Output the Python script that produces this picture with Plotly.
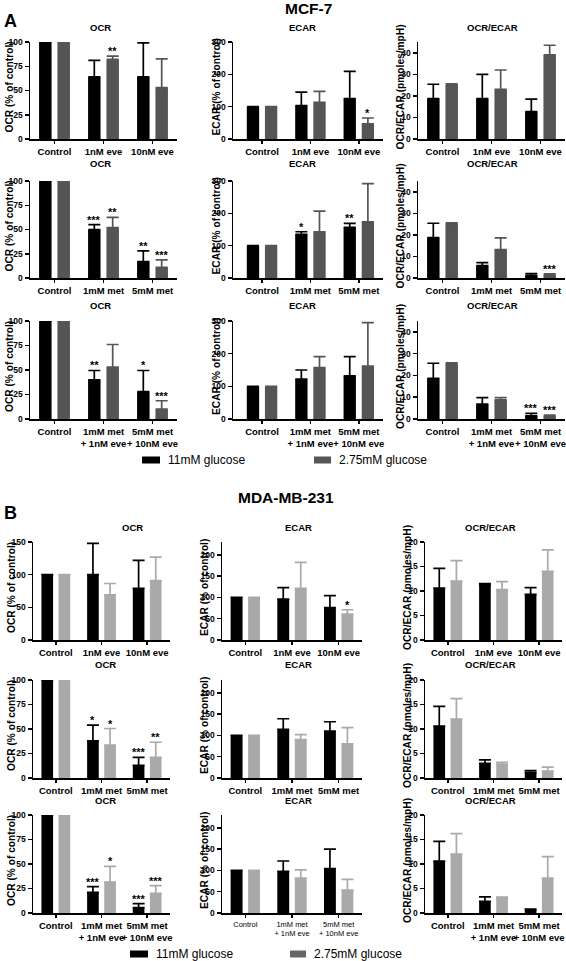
import plotly.graph_objects as go

W, H = 566, 961
FONT = "Liberation Sans, Arial, sans-serif"

# ---------------- categories / labels ----------------
cat_eve = ["Control", "1nM eve", "10nM eve"]
cat_met = ["Control", "1mM met", "5mM met"]
cat_combo = ["Control", "1mM met<br>+ 1nM eve", "5mM met<br>+ 10nM eve"]
legend_labels = ["11mM glucose", "2.75mM glucose"]

# ---------------- MCF-7 (panel A) ----------------
# row 1: everolimus
mcf7_eve_ocr_11 = [100, 64, 64]
mcf7_eve_ocr_11_err = [0, 17, 35]
mcf7_eve_ocr_275 = [100, 82, 53]
mcf7_eve_ocr_275_err = [0, 3.5, 29.5]
mcf7_eve_ocr_11_sig = ["", "", ""]
mcf7_eve_ocr_275_sig = ["", "**", ""]

mcf7_eve_ecar_11 = [100, 103, 125]
mcf7_eve_ecar_11_err = [0, 42, 84]
mcf7_eve_ecar_275 = [100, 113, 47]
mcf7_eve_ecar_275_err = [0, 34, 18]
mcf7_eve_ecar_11_sig = ["", "", ""]
mcf7_eve_ecar_275_sig = ["", "", "*"]

mcf7_eve_ratio_11 = [18.7, 18.7, 12.7]
mcf7_eve_ratio_11_err = [6.7, 11.3, 5.8]
mcf7_eve_ratio_275 = [25.3, 23, 39]
mcf7_eve_ratio_275_err = [0.3, 9, 4.5]
mcf7_eve_ratio_11_sig = ["", "", ""]
mcf7_eve_ratio_275_sig = ["", "", ""]

# row 2: metformin
mcf7_met_ocr_11 = [100, 50, 17]
mcf7_met_ocr_11_err = [0, 5, 11]
mcf7_met_ocr_275 = [100, 52, 11]
mcf7_met_ocr_275_err = [0, 10.5, 7.7]
mcf7_met_ocr_11_sig = ["", "***", "**"]
mcf7_met_ocr_275_sig = ["", "**", "***"]

mcf7_met_ecar_11 = [100, 135, 157]
mcf7_met_ecar_11_err = [0, 8, 12]
mcf7_met_ecar_275 = [100, 143, 174]
mcf7_met_ecar_275_err = [0, 64, 118]
mcf7_met_ecar_11_sig = ["", "*", "**"]
mcf7_met_ecar_275_sig = ["", "", ""]

mcf7_met_ratio_11 = [18.7, 5.8, 1.1]
mcf7_met_ratio_11_err = [6.7, 1.3, 0.9]
mcf7_met_ratio_275 = [25.3, 13.2, 1.5]
mcf7_met_ratio_275_err = [0.3, 5.4, 0.4]
mcf7_met_ratio_11_sig = ["", "", ""]
mcf7_met_ratio_275_sig = ["", "", "***"]

# row 3: combination
mcf7_combo_ocr_11 = [100, 40, 28]
mcf7_combo_ocr_11_err = [0, 9.5, 21.5]
mcf7_combo_ocr_275 = [100, 53, 10]
mcf7_combo_ocr_275_err = [0, 23, 8.6]
mcf7_combo_ocr_11_sig = ["", "**", "*"]
mcf7_combo_ocr_275_sig = ["", "", "***"]

mcf7_combo_ecar_11 = [100, 122, 132]
mcf7_combo_ecar_11_err = [0, 28, 59]
mcf7_combo_ecar_275 = [100, 157, 162]
mcf7_combo_ecar_275_err = [0, 34, 133]
mcf7_combo_ecar_11_sig = ["", "", ""]
mcf7_combo_ecar_275_sig = ["", "", ""]

mcf7_combo_ratio_11 = [18.7, 6.8, 1.5]
mcf7_combo_ratio_11_err = [6.9, 3.0, 1.1]
mcf7_combo_ratio_275 = [25.5, 8.8, 1.5]
mcf7_combo_ratio_275_err = [0.3, 1.0, 0.3]
mcf7_combo_ratio_11_sig = ["", "", "***"]
mcf7_combo_ratio_275_sig = ["", "", "***"]

# ---------------- MDA-MB-231 (panel B) ----------------
mda_eve_ocr_11 = [100, 100, 79]
mda_eve_ocr_11_err = [0, 48, 43]
mda_eve_ocr_275 = [100, 69, 91]
mda_eve_ocr_275_err = [0, 17.5, 36]
mda_eve_ocr_11_sig = ["", "", ""]
mda_eve_ocr_275_sig = ["", "", ""]

mda_eve_ecar_11 = [100, 96, 76]
mda_eve_ecar_11_err = [0, 27, 28]
mda_eve_ecar_275 = [100, 121, 61]
mda_eve_ecar_275_err = [0, 61, 10]
mda_eve_ecar_11_sig = ["", "", ""]
mda_eve_ecar_275_sig = ["", "", "*"]

mda_eve_ratio_11 = [10.6, 11.2, 9.3]
mda_eve_ratio_11_err = [4.0, 0.3, 1.4]
mda_eve_ratio_275 = [12.0, 10.3, 14.0]
mda_eve_ratio_275_err = [4.2, 1.6, 4.4]
mda_eve_ratio_11_sig = ["", "", ""]
mda_eve_ratio_275_sig = ["", "", ""]

mda_met_ocr_11 = [100, 38, 13]
mda_met_ocr_11_err = [0, 16, 8]
mda_met_ocr_275 = [100, 33.5, 21]
mda_met_ocr_275_err = [0, 17, 15.5]
mda_met_ocr_11_sig = ["", "*", "***"]
mda_met_ocr_275_sig = ["", "*", "**"]

mda_met_ecar_11 = [100, 114, 110]
mda_met_ecar_11_err = [0, 25, 22]
mda_met_ecar_275 = [100, 90, 80]
mda_met_ecar_275_err = [0, 12, 38]
mda_met_ecar_11_sig = ["", "", ""]
mda_met_ecar_275_sig = ["", "", ""]

mda_met_ratio_11 = [10.6, 3.0, 1.1]
mda_met_ratio_11_err = [4.0, 0.7, 0.4]
mda_met_ratio_275 = [12.0, 2.8, 1.4]
mda_met_ratio_275_err = [4.2, 0.4, 0.8]
mda_met_ratio_11_sig = ["", "", ""]
mda_met_ratio_275_sig = ["", "", ""]

mda_combo_ocr_11 = [100, 21, 5.5]
mda_combo_ocr_11_err = [0, 6, 4]
mda_combo_ocr_275 = [100, 31.5, 20]
mda_combo_ocr_275_err = [0, 16, 8]
mda_combo_ocr_11_sig = ["", "***", "***"]
mda_combo_ocr_275_sig = ["", "*", "***"]

mda_combo_ecar_11 = [100, 98, 104]
mda_combo_ecar_11_err = [0, 24, 46]
mda_combo_ecar_275 = [100, 82, 54]
mda_combo_ecar_275_err = [0, 19, 25]
mda_combo_ecar_11_sig = ["", "", ""]
mda_combo_ecar_275_sig = ["", "", ""]

mda_combo_ratio_11 = [10.6, 2.4, 0.7]
mda_combo_ratio_11_err = [4.0, 0.9, 0.1]
mda_combo_ratio_275 = [12.0, 2.9, 7.1]
mda_combo_ratio_275_err = [4.2, 0.35, 4.4]
mda_combo_ratio_11_sig = ["", "", ""]
mda_combo_ratio_275_sig = ["", "", ""]

# ---------------- figure building ----------------
BARGAP = 0.25
BARGROUPGAP = 0.32
GRAY_A = "#555555"
GRAY_B = "#a9a9a9"

fig = go.Figure()
layout_axes = {}
annotations = []
shapes = []
counter = [0]


def fx(x):
    return x / W


def fy(y):
    return 1 - y / H


def text(x, y, s, size, bold=True, angle=0, xanchor="center", yanchor="middle"):
    annotations.append(dict(
        x=fx(x), y=fy(y), xref="paper", yref="paper", text=s, showarrow=False,
        textangle=angle, xanchor=xanchor, yanchor=yanchor,
        font=dict(family=FONT, size=size, color="black", weight="bold" if bold else "normal"),
    ))


def add_chart(xd, yd, xrange, yrange, yticks, cats, s11, e11, s275, e275, sig11, sig275,
              gray, xtick_size=9.5, xtick_bold=True):
    counter[0] += 1
    n = counter[0]
    xa = "x" if n == 1 else f"x{n}"
    ya = "y" if n == 1 else f"y{n}"
    xkey = "xaxis" if n == 1 else f"xaxis{n}"
    ykey = "yaxis" if n == 1 else f"yaxis{n}"
    for vals, errs, color, name in ((s11, e11, "black", legend_labels[0]),
                                    (s275, e275, gray, legend_labels[1])):
        fig.add_trace(go.Bar(
            x=cats, y=vals, xaxis=xa, yaxis=ya, name=name, showlegend=False,
            marker=dict(color=color, line=dict(width=0)),
            error_y=dict(type="data", symmetric=False, array=errs, arrayminus=[0] * len(errs),
                         color=color, thickness=1.7, width=6),
        ))
    layout_axes[xkey] = dict(
        domain=[fx(xd[0]), fx(xd[1])], anchor=ya, type="category", range=list(xrange),
        showline=True, linecolor="black", linewidth=1.5, ticks="outside", ticklen=3,
        tickwidth=1.5, tickcolor="black", showgrid=False, zeroline=False, tickangle=0,
        automargin=False,
        tickfont=dict(family=FONT, size=xtick_size, color="black",
                      weight="bold" if xtick_bold else "normal"),
    )
    layout_axes[ykey] = dict(
        domain=[fy(yd[1]), fy(yd[0])], anchor=xa, range=list(yrange), tickvals=yticks,
        showline=True, linecolor="black", linewidth=1.5, ticks="outside", ticklen=4,
        tickwidth=1.5, tickcolor="black", showgrid=False, zeroline=False, automargin=False,
        tickfont=dict(family=FONT, size=8.5, color="black", weight="bold"),
    )
    unit = (xd[1] - xd[0]) / (xrange[1] - xrange[0])
    dx = unit * (1 - BARGAP) / 4
    for sigs, vals, errs, sh in ((sig11, s11, e11, -dx), (sig275, s275, e275, dx)):
        for c, s, v, e in zip(cats, sigs, vals, errs):
            if s:
                annotations.append(dict(
                    x=c, y=v + e, xref=xa, yref=ya, text=s, showarrow=False,
                    xanchor="center", yanchor="bottom", xshift=sh, yshift=-3,
                    font=dict(family=FONT, size=11, color="black", weight="bold"),
                ))


# ----- panel A layout -----
A_cols = [(30, 177, (-0.5, 2.5)), (233, 383, (-0.6, 2.5)), (418, 565, (-0.5, 2.5))]
A_rows = [(42, 139), (181, 278), (321, 419)]
A_title_y = [27, 164, 305]
A_title_x = [100, 302, 492]
A_ylab_x = [9, 216, 400]

A_data = [
    [(cat_eve, mcf7_eve_ocr_11, mcf7_eve_ocr_11_err, mcf7_eve_ocr_275, mcf7_eve_ocr_275_err, mcf7_eve_ocr_11_sig, mcf7_eve_ocr_275_sig),
     (cat_eve, mcf7_eve_ecar_11, mcf7_eve_ecar_11_err, mcf7_eve_ecar_275, mcf7_eve_ecar_275_err, mcf7_eve_ecar_11_sig, mcf7_eve_ecar_275_sig),
     (cat_eve, mcf7_eve_ratio_11, mcf7_eve_ratio_11_err, mcf7_eve_ratio_275, mcf7_eve_ratio_275_err, mcf7_eve_ratio_11_sig, mcf7_eve_ratio_275_sig)],
    [(cat_met, mcf7_met_ocr_11, mcf7_met_ocr_11_err, mcf7_met_ocr_275, mcf7_met_ocr_275_err, mcf7_met_ocr_11_sig, mcf7_met_ocr_275_sig),
     (cat_met, mcf7_met_ecar_11, mcf7_met_ecar_11_err, mcf7_met_ecar_275, mcf7_met_ecar_275_err, mcf7_met_ecar_11_sig, mcf7_met_ecar_275_sig),
     (cat_met, mcf7_met_ratio_11, mcf7_met_ratio_11_err, mcf7_met_ratio_275, mcf7_met_ratio_275_err, mcf7_met_ratio_11_sig, mcf7_met_ratio_275_sig)],
    [(cat_combo, mcf7_combo_ocr_11, mcf7_combo_ocr_11_err, mcf7_combo_ocr_275, mcf7_combo_ocr_275_err, mcf7_combo_ocr_11_sig, mcf7_combo_ocr_275_sig),
     (cat_combo, mcf7_combo_ecar_11, mcf7_combo_ecar_11_err, mcf7_combo_ecar_275, mcf7_combo_ecar_275_err, mcf7_combo_ecar_11_sig, mcf7_combo_ecar_275_sig),
     (cat_combo, mcf7_combo_ratio_11, mcf7_combo_ratio_11_err, mcf7_combo_ratio_275, mcf7_combo_ratio_275_err, mcf7_combo_ratio_11_sig, mcf7_combo_ratio_275_sig)],
]
A_yaxes = [((0, 100), [0, 25, 50, 75, 100]), ((0, 300), [0, 100, 200, 300]), ((0, 45), [0, 10, 20, 30, 40])]
titles = ["OCR", "ECAR", "OCR/ECAR"]
ylabels = ["OCR (% of control)", "ECAR (% of control)", "OCR/ECAR (pmoles/mpH)"]

for r, (top, bot) in enumerate(A_rows):
    for c, (x0, x1, xr) in enumerate(A_cols):
        cats, s11, e11, s275, e275, g11, g275 = A_data[r][c]
        yr, yt = A_yaxes[c]
        add_chart((x0, x1), (top, bot), xr, yr, yt, cats, s11, e11, s275, e275, g11, g275, GRAY_A)
        text(A_title_x[c], A_title_y[r], titles[c], 9.5)
        text(A_ylab_x[c], (top + bot) / 2 - 3, ylabels[c], 10.2, angle=-90)

# ----- panel B layout -----
B_cols = [(33, 170, (-0.5, 2.5)), (222, 362, (-0.5, 2.5)), (425, 562, (-0.5, 2.5))]
B_rows = [(542, 640), (680, 778), (815, 913)]
B_title_y = [527, 664, 800]
B_title_x = [[132, 298, 491], [105, 298, 491], [105, 298, 491]]
B_ylab_x = [11, 204, 407]

B_data = [
    [(cat_eve, mda_eve_ocr_11, mda_eve_ocr_11_err, mda_eve_ocr_275, mda_eve_ocr_275_err, mda_eve_ocr_11_sig, mda_eve_ocr_275_sig),
     (cat_eve, mda_eve_ecar_11, mda_eve_ecar_11_err, mda_eve_ecar_275, mda_eve_ecar_275_err, mda_eve_ecar_11_sig, mda_eve_ecar_275_sig),
     (cat_eve, mda_eve_ratio_11, mda_eve_ratio_11_err, mda_eve_ratio_275, mda_eve_ratio_275_err, mda_eve_ratio_11_sig, mda_eve_ratio_275_sig)],
    [(cat_met, mda_met_ocr_11, mda_met_ocr_11_err, mda_met_ocr_275, mda_met_ocr_275_err, mda_met_ocr_11_sig, mda_met_ocr_275_sig),
     (cat_met, mda_met_ecar_11, mda_met_ecar_11_err, mda_met_ecar_275, mda_met_ecar_275_err, mda_met_ecar_11_sig, mda_met_ecar_275_sig),
     (cat_met, mda_met_ratio_11, mda_met_ratio_11_err, mda_met_ratio_275, mda_met_ratio_275_err, mda_met_ratio_11_sig, mda_met_ratio_275_sig)],
    [(cat_combo, mda_combo_ocr_11, mda_combo_ocr_11_err, mda_combo_ocr_275, mda_combo_ocr_275_err, mda_combo_ocr_11_sig, mda_combo_ocr_275_sig),
     (cat_combo, mda_combo_ecar_11, mda_combo_ecar_11_err, mda_combo_ecar_275, mda_combo_ecar_275_err, mda_combo_ecar_11_sig, mda_combo_ecar_275_sig),
     (cat_combo, mda_combo_ratio_11, mda_combo_ratio_11_err, mda_combo_ratio_275, mda_combo_ratio_275_err, mda_combo_ratio_11_sig, mda_combo_ratio_275_sig)],
]
B_yaxes_ocr = [((0, 150), [0, 50, 100, 150]), ((0, 100), [0, 25, 50, 75, 100]), ((0, 100), [0, 25, 50, 75, 100])]
B_yaxis_ecar = ((0, 230), [0, 50, 100, 150, 200])
B_yaxis_ratio = ((0, 20), [0, 5, 10, 15, 20])

for r, (top, bot) in enumerate(B_rows):
    for c, (x0, x1, xr) in enumerate(B_cols):
        cats, s11, e11, s275, e275, g11, g275 = B_data[r][c]
        yr, yt = [B_yaxes_ocr[r], B_yaxis_ecar, B_yaxis_ratio][c]
        small = (r == 2 and c == 1)
        add_chart((x0, x1), (top, bot), xr, yr, yt, cats, s11, e11, s275, e275, g11, g275, GRAY_B,
                  xtick_size=7.5 if small else 9.5, xtick_bold=not small)
        text(B_title_x[r][c], B_title_y[r], titles[c], 9.5)
        text(B_ylab_x[c], (top + bot) / 2 - 3, ylabels[c], 10.2, angle=-90)

# ----- headings -----
text(2, 21, "A", 18, xanchor="left")
text(308, 9, "MCF-7", 15.5)
text(2, 513, "B", 18, xanchor="left")
text(286, 498, "MDA-MB-231", 15.5)


# ----- legends (swatches + labels) -----
def legend_row(y, items):
    for (x0, x1, color, label) in items:
        shapes.append(dict(type="rect", xref="paper", yref="paper", x0=fx(x0), x1=fx(x1),
                           y0=fy(y + 3.5), y1=fy(y - 3.5), fillcolor=color, line=dict(width=0)))
        text(x1 + 6, y, label, 12, bold=False, xanchor="left")


legend_row(460, [(142, 160, "black", legend_labels[0]), (314, 331, GRAY_A, legend_labels[1])])
legend_row(954, [(130, 148, "black", legend_labels[0]), (290, 306, "#666666", legend_labels[1])])

fig.update_layout(
    width=W, height=H, margin=dict(l=0, r=0, t=0, b=0),
    paper_bgcolor="white", plot_bgcolor="white",
    barmode="group", bargap=BARGAP, bargroupgap=BARGROUPGAP,
    showlegend=False, annotations=annotations, shapes=shapes,
    font=dict(family=FONT, color="black"),
    **layout_axes,
)

fig.write_html(
    "out.html",
    config={"displayModeBar": False, "staticPlot": True},
    post_script="document.body.style.margin='0';document.body.style.overflow='hidden';",
)
